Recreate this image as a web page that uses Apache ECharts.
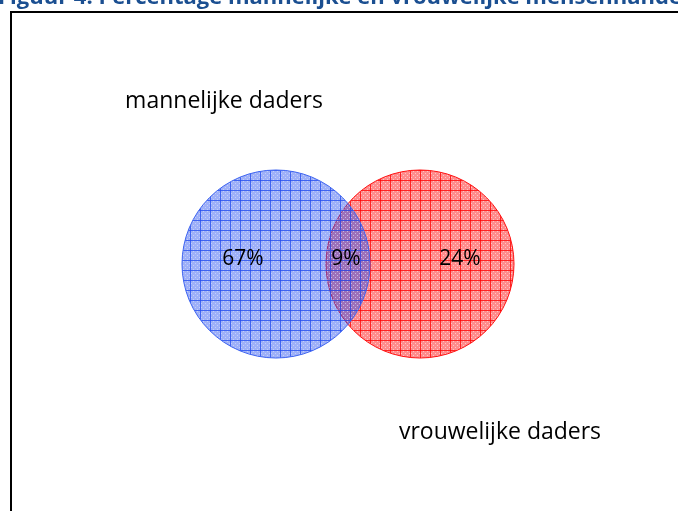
<!DOCTYPE html>
<html>
<head>
<meta charset="utf-8">
<script src="https://cdn.jsdelivr.net/npm/echarts@6/dist/echarts.min.js"></script>
<style>
html, body { margin: 0; padding: 0; background: #fff; }
#main { width: 678px; height: 511px; }
</style>
</head>
<body>
<div id="main"></div>
<script>
// data
var titleText = 'Figuur 4: Percentage mannelijke en vrouwelijke mensenhandelaars';
var setNames = ['mannelijke daders', 'vrouwelijke daders'];
var regionNames = ['alleen mannelijk', 'beide', 'alleen vrouwelijk'];
var regionShares = [67, 9, 24];

// layout (chart units = pixels of the 678x511 frame)
var circleX = [276, 420];
var circleY = [264, 264];
var circleR = [94, 94];
var regionLabelX = [243, 346, 460];
var setLabelX = [224, 500];
var setLabelY = [101, 432];

function makePattern(fill, line, dot){
    var c = document.createElement('canvas');
    c.width = 10; c.height = 10;
    var ctx = c.getContext('2d');
    ctx.fillStyle = fill;
    ctx.fillRect(0, 0, 10, 10);
    ctx.fillStyle = dot;
    for(var i = 1 ; i < 10 ; i += 2){
        for(var j = 1 ; j < 10 ; j += 2){
            if((i + j) % 4 == 0) ctx.fillRect(i, j, 1, 1);
        }
    }
    ctx.fillStyle = line;
    ctx.fillRect(0, 0, 10, 1);
    ctx.fillRect(0, 0, 1, 10);
    return c;
}

var bluePattern = makePattern('rgba(40,80,240,0.45)', 'rgba(40,80,240,0.8)', 'rgba(255,255,255,0.4)');
var redPattern = makePattern('rgba(255,0,0,0.45)', 'rgba(255,0,0,0.75)', 'rgba(255,255,255,0.5)');

var circleData = [];
for(var i = 0 ; i < setNames.length ; i ++){
    circleData.push([circleX[i], circleY[i], circleR[i], i]);
}
// red drawn first, blue on top
circleData.reverse();

var labelData = [];
for(var k = 0 ; k < regionShares.length ; k ++){
    labelData.push({name: regionNames[k], value: [regionLabelX[k], 259, regionShares[k]]});
}

var setData = [];
for(var s = 0 ; s < setNames.length ; s ++){
    setData.push({name: setNames[s], value: [setLabelX[s], setLabelY[s]]});
}

var chart = echarts.init(document.getElementById('main'));
var option = {
    animation: false,
    grid: {left: 0, right: 0, top: 0, bottom: 0},
    xAxis: {type: 'value', min: 0, max: 678, show: false},
    yAxis: {type: 'value', min: 0, max: 511, inverse: true, show: false},
    graphic: [
        {
            type: 'rect',
            shape: {x: 11, y: 12, width: 700, height: 520},
            style: {fill: 'none', stroke: '#000', lineWidth: 2},
            z: 0
        },
        {
            type: 'text',
            x: -2, y: 9,
            style: {
                text: titleText,
                fill: '#1b4f91',
                font: 'bold 22px "Open Sans"',
                textVerticalAlign: 'bottom'
            }
        }
    ],
    series: [
        {
            type: 'custom',
            data: circleData,
            z: 2,
            renderItem: function(params, api){
                var c = api.coord([api.value(0), api.value(1)]);
                var r = api.size([api.value(2), 0])[0];
                var idx = api.value(3);
                return {
                    type: 'circle',
                    shape: {cx: c[0], cy: c[1], r: r},
                    style: {
                        fill: {image: idx == 0 ? bluePattern : redPattern, repeat: 'repeat'},
                        stroke: idx == 0 ? '#3d63f0' : '#ff1010',
                        lineWidth: 1
                    }
                };
            }
        },
        {
            type: 'custom',
            data: labelData,
            z: 3,
            renderItem: function(params, api){
                var c = api.coord([api.value(0), api.value(1)]);
                return {
                    type: 'text',
                    x: c[0], y: c[1],
                    style: {
                        text: api.value(2) + '%',
                        fill: '#000',
                        font: '21px "Open Sans"',
                        textAlign: 'center',
                        textVerticalAlign: 'middle'
                    }
                };
            }
        },
        {
            type: 'custom',
            data: setData,
            z: 3,
            renderItem: function(params, api){
                var c = api.coord([api.value(0), api.value(1)]);
                return {
                    type: 'text',
                    x: c[0], y: c[1],
                    style: {
                        text: setData[params.dataIndex].name,
                        fill: '#000',
                        font: '23px "Open Sans"',
                        textAlign: 'center',
                        textVerticalAlign: 'middle'
                    }
                };
            }
        }
    ]
};
chart.setOption(option);
</script>
</body>
</html>
